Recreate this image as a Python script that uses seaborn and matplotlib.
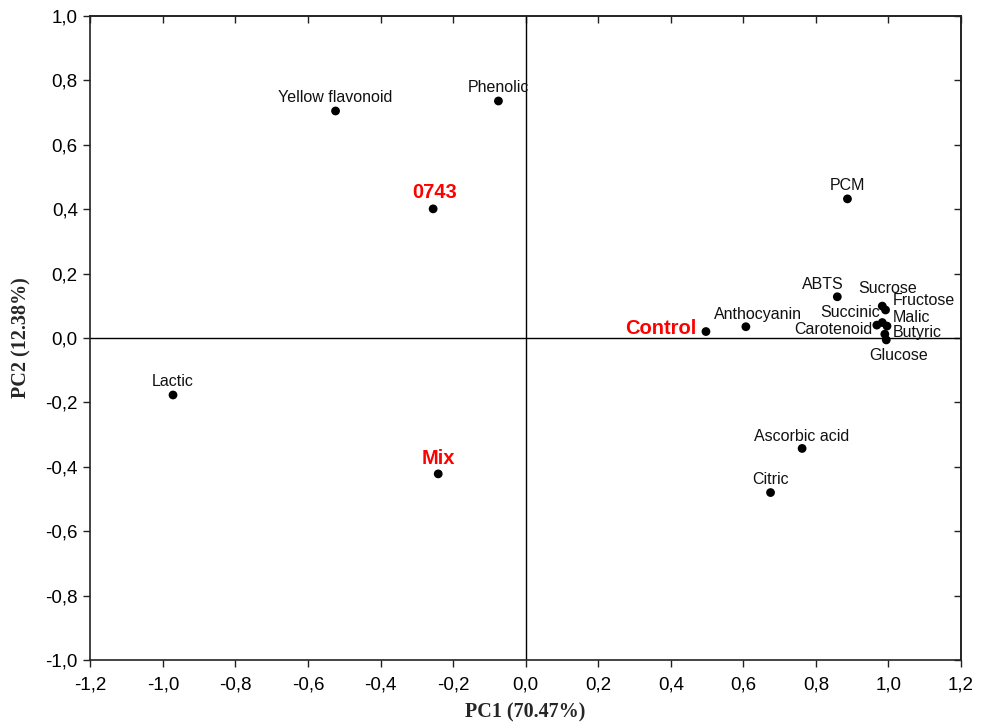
import numpy as np
import pandas as pd
import matplotlib
matplotlib.use('Agg')
import matplotlib.pyplot as plt
import seaborn as sns
from matplotlib.ticker import FuncFormatter, MultipleLocator

# PCA loadings / scores
names = ['Yellow flavonoid', 'Phenolic', '0743', 'PCM', 'ABTS', 'Sucrose', 'Fructose',
         'Succinic', 'Carotenoid', 'Malic', 'Butyric', 'Glucose', 'Anthocyanin',
         'Control', 'Lactic', 'Mix', 'Ascorbic acid', 'Citric']
pc1 = [-0.524, -0.075, -0.255, 0.887, 0.859, 0.983, 0.992,
       0.983, 0.968, 0.996, 0.990, 0.994, 0.607,
       0.497, -0.972, -0.241, 0.762, 0.675]
pc2 = [0.705, 0.736, 0.401, 0.432, 0.128, 0.099, 0.087,
       0.048, 0.040, 0.037, 0.012, -0.006, 0.035,
       0.020, -0.177, -0.422, -0.343, -0.480]
samples = ['0743', 'Control', 'Mix']

df = pd.DataFrame({'name': names, 'PC1': pc1, 'PC2': pc2})

# label placement (pixel offsets from the dot, horizontal alignment)
label_pos = {
    'Yellow flavonoid': (0, 13, 'center'), 'Phenolic': (0, 13, 'center'),
    '0743': (1, 16, 'center'), 'PCM': (0, 13, 'center'), 'ABTS': (-14, 12, 'center'),
    'Sucrose': (5, 18, 'center'), 'Fructose': (7, 9, 'left'), 'Succinic': (-2, 10, 'right'),
    'Carotenoid': (-4, -4, 'right'), 'Malic': (6, 9, 'left'), 'Butyric': (8, 2, 'left'),
    'Glucose': (12, -16, 'center'), 'Anthocyanin': (12, 12, 'center'),
    'Control': (-10, 3, 'right'), 'Lactic': (0, 13, 'center'), 'Mix': (0, 15, 'center'),
    'Ascorbic acid': (0, 12, 'center'), 'Citric': (0, 13, 'center'),
}

sns.set_style('white')
plt.rcParams['font.family'] = ['Liberation Sans', 'DejaVu Sans']

fig = plt.figure(figsize=(9.89, 7.26), dpi=100)
ax = fig.add_axes([0.0913, 0.0909, 0.8804, 0.8871])

ax.axhline(0, color='black', lw=1.0, zorder=1)
ax.axvline(0, color='black', lw=1.0, zorder=1)

sns.scatterplot(data=df, x='PC1', y='PC2', color='black', s=40, edgecolor='none',
                ax=ax, legend=False, zorder=3)

px = 72 / 100
for n, x, y in zip(names, pc1, pc2):
    dx, dy, ha = label_pos[n]
    if n in samples:
        ax.annotate(n, (x, y), xytext=(dx * px, dy * px), textcoords='offset points',
                    ha=ha, va='center', fontsize=14.5, fontweight='bold', color='#ff0000')
    else:
        ax.annotate(n, (x, y), xytext=(dx * px, dy * px), textcoords='offset points',
                    ha=ha, va='center', fontsize=11.5, color='#111111')

ax.set_xlim(-1.2, 1.2)
ax.set_ylim(-1.0, 1.0)
ax.xaxis.set_major_locator(MultipleLocator(0.2))
ax.yaxis.set_major_locator(MultipleLocator(0.2))
comma = FuncFormatter(lambda v, p: f'{0.0 if abs(v) < 1e-9 else v:.1f}'.replace('.', ','))
ax.xaxis.set_major_formatter(comma)
ax.yaxis.set_major_formatter(comma)
ax.tick_params(direction='out', length=5, width=1, colors='#222222', labelsize=13.5,
               labelcolor='black', bottom=True, left=True, pad=4)
ax.tick_params(axis='x', pad=7)

# inward ticks on top and right
top = ax.secondary_xaxis('top')
top.xaxis.set_major_locator(MultipleLocator(0.2))
top.tick_params(direction='in', length=5, width=1, labeltop=False, colors='#222222')
right = ax.secondary_yaxis('right')
right.yaxis.set_major_locator(MultipleLocator(0.2))
right.tick_params(direction='in', length=5, width=1, labelright=False, colors='#222222')

for sp in list(ax.spines.values()) + [top.spines['top'], right.spines['right']]:
    sp.set_color('#222222')
    sp.set_linewidth(1.2)

ax.set_xlabel('PC1 (70.47%)', fontsize=14.5, fontweight='bold', family='Liberation Serif',
              labelpad=6)
ax.set_ylabel('PC2 (12.38%)', fontsize=14.5, fontweight='bold', family='Liberation Serif',
              labelpad=10)

fig.savefig('out.png', dpi=100, facecolor='white')
